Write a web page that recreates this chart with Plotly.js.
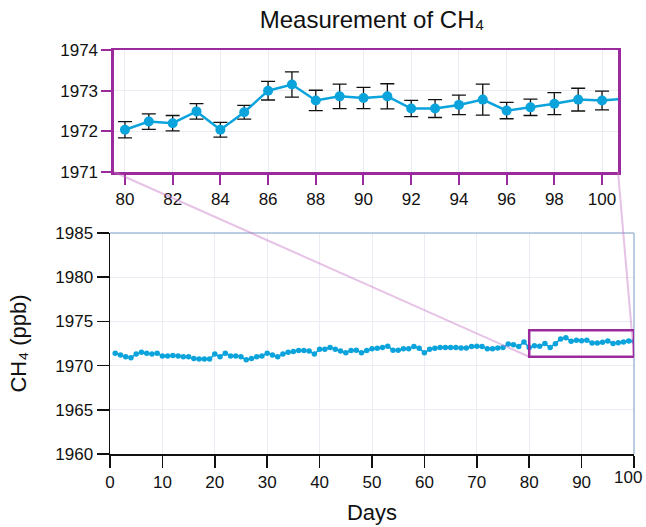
<!DOCTYPE html>
<html><head><meta charset="utf-8">
<script src="https://cdn.plot.ly/plotly-3.0.1.min.js"></script>
<style>html,body{margin:0;padding:0;background:#fff}#chart{width:646px;height:527px}</style>
</head><body><div id="chart"></div>
<script>
const days = [1,2,3,4,5,6,7,8,9,10,11,12,13,14,15,16,17,18,19,20,21,22,23,24,25,26,27,28,29,30,
  31,32,33,34,35,36,37,38,39,40,41,42,43,44,45,46,47,48,49,50,51,52,53,54,55,56,57,58,59,60,
  61,62,63,64,65,66,67,68,69,70,71,72,73,74,75,76,77,78,79,80,81,82,83,84,85,86,87,88,89,90,
  91,92,93,94,95,96,97,98,99,100,101];
const ch4 = [1971.4,1971.2,1971.0,1970.9,1971.3,1971.5,1971.4,1971.3,1971.4,1971.1,
  1971.1,1971.15,1971.1,1971.0,1971.0,1970.8,1970.75,1970.75,1970.75,1971.3,
  1971.0,1971.4,1971.1,1971.1,1971.0,1970.65,1970.8,1971.0,1971.1,1971.4,
  1971.2,1971.0,1971.3,1971.5,1971.6,1971.7,1971.7,1971.65,1971.3,1971.85,
  1971.85,1972.05,1971.85,1971.65,1971.45,1971.7,1971.75,1971.45,1971.7,1971.9,
  1971.95,1972.05,1972.2,1971.75,1971.75,1971.9,1971.9,1972.15,1971.95,1971.45,
  1971.85,1971.95,1972.05,1972.05,1972.05,1972.05,1972.0,1972.0,1972.15,1972.2,
  1972.17,1971.9,1971.9,1972.0,1972.06,1972.43,1972.36,1972.17,1972.66,1972.04,
  1972.24,1972.2,1972.49,1972.04,1972.47,1973.0,1973.15,1972.76,1972.86,1972.82,
  1972.86,1972.56,1972.56,1972.65,1972.78,1972.51,1972.59,1972.68,1972.78,1972.76,1972.8];
const insetDays = [80,81,82,83,84,85,86,87,88,89,90,91,92,93,94,95,96,97,98,99,100,101];
const insetErr = [0.2,0.19,0.19,0.19,0.18,0.17,0.23,0.31,0.25,0.3,0.26,0.31,0.2,0.22,0.24,0.38,0.2,0.2,0.27,0.28,0.23,0.22];
const zoomX = [80, 100];
const zoomY = [1971, 1974];
const xTicksMain = [0,10,20,30,40,50,60,70,80,90,100];
const xTickTextMain = ['0','10','20','30','40','50','60','70','80','90','100'];
const yTicksMain = [1960,1965,1970,1975,1980,1985];
const xTicksInset = [80,82,84,86,88,90,92,94,96,98,100];
const yTicksInset = [1971,1972,1973,1974];

const insetCH4 = insetDays.map(d => ch4[days.indexOf(d)]);

const BLUE = '#0aa3dc';
const PURPLE = '#9b2a9c';
const GRID = '#ebebf3';
const FONT = 'Liberation Sans, Arial, Helvetica, sans-serif';

const mainXRange = [0, 100], mainYRange = [1960, 1985];
const mainXDom = [0, 1], mainYDom = [0, 0.547];
const insetXDom = [0.0076, 0.9695], insetYDom = [0.698, 1];
const insetXRange = [79.54, 100.67];

function px(v, r, d) { return d[0] + (v - r[0]) / (r[1] - r[0]) * (d[1] - d[0]); }

const traces = [
  {x: days, y: ch4, xaxis: 'x', yaxis: 'y', mode: 'lines+markers',
   line: {color: BLUE, width: 1.6}, marker: {color: BLUE, size: 5.5}, hoverinfo: 'skip'},
  {x: insetDays, y: insetCH4, xaxis: 'x2', yaxis: 'y2', mode: 'lines+markers',
   line: {color: BLUE, width: 2.5}, marker: {color: BLUE, size: 10},
   error_y: {type: 'data', array: insetErr, visible: true, color: '#111', thickness: 1.3, width: 7},
   hoverinfo: 'skip'}
];

const shapes = [
  {type: 'line', xref: 'x domain', yref: 'y domain', x0: 0, x1: 1, y0: 1, y1: 1, line: {color: '#a6bdd7', width: 1.5}},
  {type: 'line', xref: 'x domain', yref: 'y domain', x0: 1, x1: 1, y0: 0, y1: 1, line: {color: '#a6bdd7', width: 1.5}},
  {type: 'line', xref: 'paper', yref: 'paper',
   x0: insetXDom[0], y0: insetYDom[0],
   x1: px(zoomX[0], mainXRange, mainXDom), y1: px(zoomY[0], mainYRange, mainYDom),
   line: {color: 'rgba(200,120,200,0.45)', width: 2}},
  {type: 'line', xref: 'paper', yref: 'paper',
   x0: insetXDom[1], y0: insetYDom[0],
   x1: px(zoomX[1], mainXRange, mainXDom), y1: px(zoomY[0], mainYRange, mainYDom),
   line: {color: 'rgba(200,120,200,0.45)', width: 2}},
  {type: 'rect', xref: 'x', yref: 'y', x0: zoomX[0], x1: zoomX[1], y0: zoomY[0], y1: zoomY[1],
   line: {color: PURPLE, width: 2.5}}
];

const tickfont = {family: FONT, size: 17, color: '#111'};
const lastIdx = xTicksMain.length - 1;
// last tick label drawn as annotation, nudged left so it stays inside the page
const shownTickText = xTickTextMain.map((t, i) => i === lastIdx ? '' : t);
const annotations = [
  {text: xTickTextMain[lastIdx], x: xTicksMain[lastIdx], xref: 'x', y: 0, yref: 'y domain',
   xanchor: 'center', yanchor: 'top', xshift: -6, yshift: -12, showarrow: false, font: tickfont}
];

const layout = {
  width: 646, height: 527,
  margin: {l: 110, r: 12, t: 50, b: 73},
  paper_bgcolor: '#fff', plot_bgcolor: '#fff',
  showlegend: false,
  font: {family: FONT, color: '#111'},
  title: {text: 'Measurement of CH₄', font: {family: FONT, size: 24, color: '#111'},
          x: 0.5, xref: 'paper', xanchor: 'center', y: 1 - 20/527, yref: 'container', yanchor: 'middle'},
  xaxis: {domain: mainXDom, range: mainXRange, anchor: 'y', tickvals: xTicksMain,
          ticktext: shownTickText, ticks: 'outside',
          ticklen: 12, tickwidth: 1.5, tickcolor: '#111', showline: true, linecolor: '#111', linewidth: 1.5,
          showgrid: true, gridcolor: GRID, zeroline: false, tickfont: tickfont,
          title: {text: 'Days', font: {family: FONT, size: 22, color: '#111'}, standoff: 13}},
  yaxis: {domain: mainYDom, range: mainYRange, anchor: 'x', tickvals: yTicksMain, ticks: 'outside',
          ticklen: 12, tickwidth: 1.5, tickcolor: '#111', showline: true, linecolor: '#111', linewidth: 1.5,
          showgrid: true, gridcolor: GRID, zeroline: false, tickfont: tickfont,
          title: {text: 'CH₄ (ppb)', font: {family: FONT, size: 22, color: '#111'}, standoff: 22}},
  xaxis2: {domain: insetXDom, range: insetXRange, anchor: 'y2', tickvals: xTicksInset, ticks: 'outside',
           ticklen: 10, tickwidth: 2, tickcolor: PURPLE, showline: true, mirror: true, linecolor: PURPLE, linewidth: 2.5,
           showgrid: true, gridcolor: GRID, zeroline: false, tickfont: tickfont},
  yaxis2: {domain: insetYDom, range: zoomY, anchor: 'x2', tickvals: yTicksInset, ticks: 'outside',
           ticklen: 10, tickwidth: 2, tickcolor: PURPLE, showline: true, mirror: true, linecolor: PURPLE, linewidth: 2.5,
           showgrid: true, gridcolor: GRID, zeroline: false, tickfont: tickfont},
  shapes: shapes,
  annotations: annotations
};

Plotly.newPlot('chart', traces, layout, {staticPlot: true, displayModeBar: false});
</script>
</body></html>
